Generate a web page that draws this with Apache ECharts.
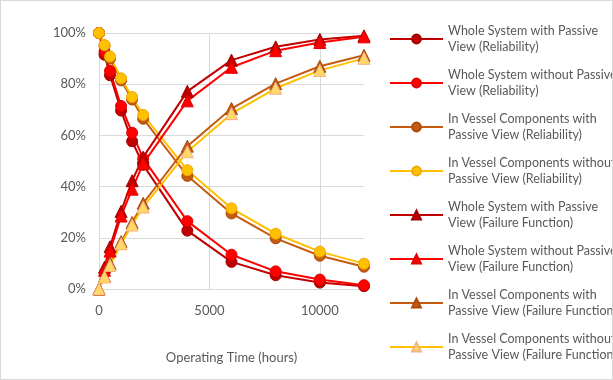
<!DOCTYPE html>
<html><head><meta charset="utf-8">
<script src="https://cdn.jsdelivr.net/npm/echarts@6/dist/echarts.min.js"></script>
<style>html,body{margin:0;padding:0;background:#fff}#c{width:613px;height:380px;box-sizing:border-box;border:1px solid #d9d9d9}</style>
</head><body><div id="c"></div>
<script>
var hours = [0, 250, 500, 1000, 1500, 2000, 4000, 6000, 8000, 10000, 12000];
var wsWithRel    = [100, 91.5, 83.5, 69.7, 57.7, 48.5, 22.8, 10.6, 5.4, 2.5, 1.1];
var wsWithoutRel = [100, 92.7, 85.2, 71.5, 61.0, 51.0, 26.5, 13.4, 6.9, 3.7, 1.5];
var ivWithRel    = [100, 95.0, 90.0, 81.5, 74.0, 66.5, 44.2, 29.5, 19.8, 13.0, 8.7];
var ivWithoutRel = [100, 95.3, 90.8, 82.3, 75.0, 68.0, 46.4, 31.5, 21.6, 14.6, 9.9];
var wsWithFail    = [0, 8.5, 16.5, 30.3, 42.3, 51.5, 77.2, 89.4, 94.6, 97.5, 98.9];
var wsWithoutFail = [0, 7.3, 14.8, 28.5, 39.0, 49.0, 73.5, 86.6, 93.1, 96.3, 98.5];
var ivWithFail    = [0, 5.0, 10.0, 18.5, 26.0, 33.5, 55.8, 70.5, 80.2, 87.0, 91.3];
var ivWithoutFail = [0, 4.7, 9.2, 17.7, 25.0, 32.0, 53.6, 68.5, 78.4, 85.4, 90.1];
var names = [
 'Whole System with Passive\nView (Reliability)',
 'Whole System without Passive\nView (Reliability)',
 'In Vessel Components with\nPassive View (Reliability)',
 'In Vessel Components without\nPassive View (Reliability)',
 'Whole System with Passive\nView (Failure Function)',
 'Whole System without Passive\nView (Failure Function)',
 'In Vessel Components with\nPassive View (Failure Function)',
 'In Vessel Components without\nPassive View (Failure Function)'
];
var xAxisTitle = 'Operating Time (hours)';

function pairs(v){ return hours.map(function(h,i){ return [h, v[i]]; }); }
function mk(name, vals, color, sym, fill, border){
  return {
    name: name, type: 'line', data: pairs(vals),
    symbol: sym, symbolSize: sym === 'circle' ? 11 : 12,
    lineStyle: {color: color, width: 2},
    itemStyle: {color: fill, borderColor: border, borderWidth: 1},
    emphasis: {disabled: true}
  };
}
var series = [
  mk(names[0], wsWithRel, '#C00000', 'circle', '#C00000', '#A00000'),
  mk(names[1], wsWithoutRel, '#FF0000', 'circle', '#FF0000', '#E00000'),
  mk(names[2], ivWithRel, '#C55A11', 'circle', '#C55A11', '#A84A0C'),
  mk(names[3], ivWithoutRel, '#FFC000', 'circle', '#FFC000', '#F0A800'),
  mk(names[4], wsWithFail, '#C00000', 'triangle', '#C00000', '#A00000'),
  mk(names[5], wsWithoutFail, '#FF0000', 'triangle', '#FF0000', '#E00000'),
  mk(names[6], ivWithFail, '#C55A11', 'triangle', '#C55A11', '#A84A0C'),
  mk(names[7], ivWithoutFail, '#FFC000', 'triangle', '#FFD966', '#F4B183')
];
var chart = echarts.init(document.getElementById('c'), null, {renderer: 'canvas'});
var font = 'Lato, "Open Sans", sans-serif';
chart.setOption({
  animation: false,
  textStyle: {fontFamily: font},
  grid: {left: 98, right: 248, top: 32, bottom: 90, containLabel: false},
  xAxis: {
    type: 'value', min: 0, max: 12000, interval: 5000,
    name: xAxisTitle, nameLocation: 'middle', nameGap: 62,
    nameTextStyle: {color: '#595959', fontSize: 13, fontFamily: font},
    axisLine: {show: false}, axisTick: {show: false},
    axisLabel: {color: '#595959', fontSize: 13, margin: 15, showMaxLabel: false,
      formatter: function(v){ return String(v); }},
    splitLine: {show: true, showMaxLine: false, lineStyle: {color: '#d9d9d9', width: 1}}
  },
  yAxis: {
    type: 'value', min: 0, max: 100, interval: 20,
    axisLine: {show: false}, axisTick: {show: false},
    axisLabel: {color: '#595959', fontSize: 13, margin: 13, formatter: '{value}%'},
    splitLine: {show: true, lineStyle: {color: '#d9d9d9', width: 1}}
  },
  legend: {
    orient: 'vertical', left: 383, top: 9, itemGap: -4,
    itemWidth: 53, itemHeight: 11,
    selectedMode: false,
    textStyle: {color: '#595959', fontSize: 12.5, lineHeight: 16, padding: [16, 0, 0, 0], fontFamily: font},
    data: names
  },
  series: series
});
</script></body></html>
